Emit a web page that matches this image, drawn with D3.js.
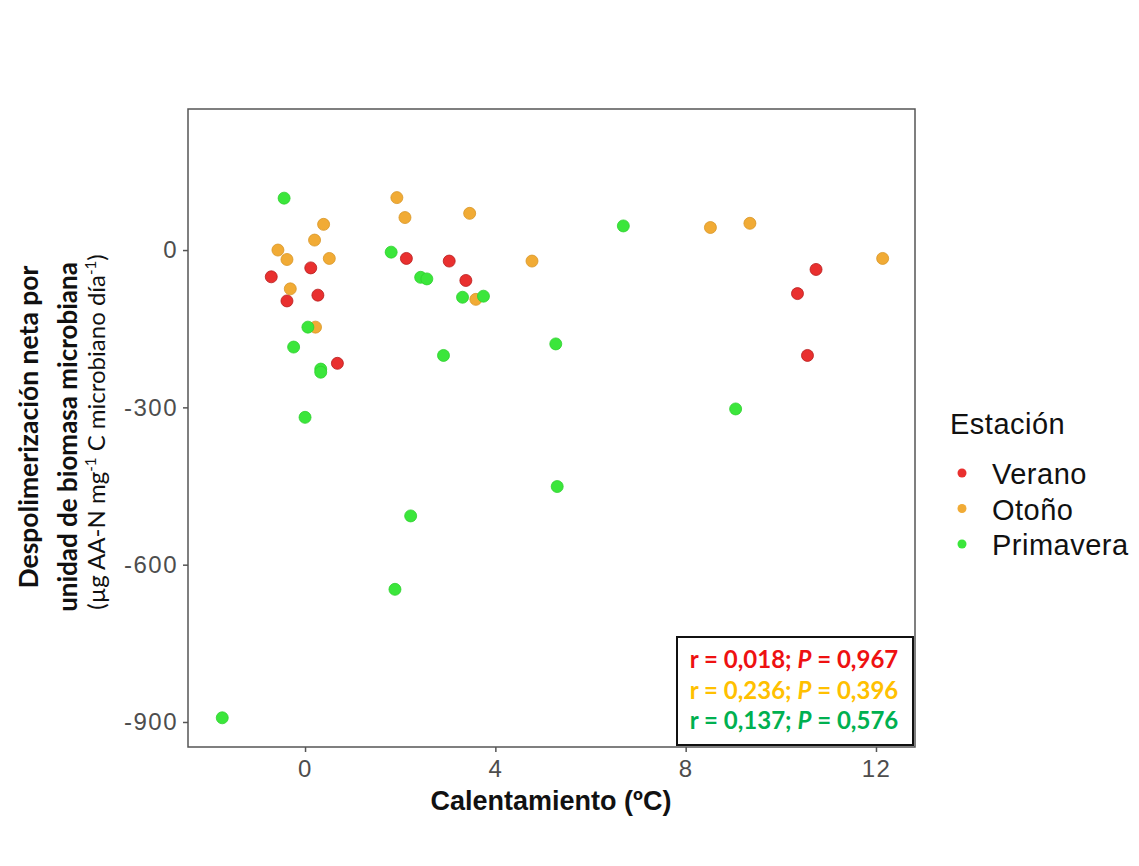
<!DOCTYPE html>
<html>
<head>
<meta charset="utf-8">
<script src="https://cdn.jsdelivr.net/npm/d3@7"></script>
<style>
  body { margin: 0; background: #fff; }
  svg { display: block; }
</style>
</head>
<body>
<svg id="chart" width="1139" height="866"></svg>
<script>
// Data
const seasons = ['Verano', 'Otoño', 'Primavera']
const seasonColors = ['#e9302f', '#f1ab35', '#3be63b']
const seasonStrokes = ['#b81d1d', '#d89526', '#2fd12f']

const veranoX = [-0.71, 0.12, -0.38, 0.27, 0.68, 2.13, 3.03, 3.38, 10.74, 10.35, 10.56]
const veranoY = [-51, -34, -97, -86, -216, -16, -21, -58, -37, -83, -201]

const otonoX = [-0.57, 0.39, 0.20, 0.51, -0.38, -0.31, 0.22, 1.93, 2.10, 3.46, 4.77, 3.59, 8.52, 9.35, 12.14]
const otonoY = [0, 49, 19, -16, -18, -74, -147, 100, 62, 70, -21, -94, 43, 51, -16]

const primaveraX = [-0.44, 0.06, -0.24, 0.33, 0.33, 0.0, 1.81, 2.43, 2.56, 3.31, 3.75, 2.91, 5.27, 6.69, 9.05, 5.30, 2.22, 1.89, -1.74]
const primaveraY = [99, -147, -185, -227, -233, -319, -4, -52, -55, -90, -88, -201, -179, 46, -303, -451, -507, -647, -892]

const xTicks = [0, 4, 8, 12]
const yTicks = [0, -300, -600, -900]

const statsR = ['0,018', '0,236', '0,137']
const statsP = ['0,967', '0,396', '0,576']
const statsColors = ['#ee1111', '#ffc000', '#00b050']

// Layout
const panelLeft = 188, panelRight = 915, panelTop = 109, panelBottom = 747

const svg = d3.select('#chart')

const xScale = d3.scaleLinear()
    .domain([-2.46, 12.82])
    .range([panelLeft, panelRight])

const yScale = d3.scaleLinear()
    .domain([-947.7, 269])
    .range([panelBottom, panelTop])

// Build points
const seriesX = [veranoX, otonoX, primaveraX]
const seriesY = [veranoY, otonoY, primaveraY]
const points = []
seasons.forEach((s, i) => {
    seriesX[i].forEach((x, j) => {
        points.push({season: i, x: x, y: seriesY[i][j]})
    })
})

// Axes (plain hyphen for negatives, like the original)
const plainFormat = d => String(d)

const xAxis = svg.append('g')
    .attr('transform', `translate(0,${panelBottom})`)
    .call(d3.axisBottom(xScale).tickValues(xTicks).tickSize(5).tickPadding(8).tickFormat(plainFormat))

const yAxis = svg.append('g')
    .attr('transform', `translate(${panelLeft},0)`)
    .call(d3.axisLeft(yScale).tickValues(yTicks).tickSize(5).tickPadding(5).tickFormat(plainFormat))

;[xAxis, yAxis].forEach(ax => {
    ax.select('.domain').remove()
    ax.selectAll('.tick line').attr('stroke', '#555').attr('stroke-width', 1.5)
    ax.selectAll('.tick text')
        .attr('fill', '#4d4d4d')
        .style('font-family', 'Liberation Sans, Arial, sans-serif')
        .style('font-size', '24px')
        .style('letter-spacing', '1.5px')
})

// Panel border
svg.append('rect')
    .attr('x', panelLeft)
    .attr('y', panelTop)
    .attr('width', panelRight - panelLeft)
    .attr('height', panelBottom - panelTop)
    .attr('fill', 'none')
    .attr('stroke', '#555')
    .attr('stroke-width', 1.5)

// Points
svg.append('g')
    .selectAll('circle')
    .data(points)
    .enter()
    .append('circle')
    .attr('cx', d => xScale(d.x))
    .attr('cy', d => yScale(d.y))
    .attr('r', 6)
    .attr('fill', d => seasonColors[d.season])
    .attr('stroke', d => seasonStrokes[d.season])
    .attr('stroke-width', 0.8)

// Stats box
const statBox = svg.append('g')
statBox.append('rect')
    .attr('x', 677)
    .attr('y', 637)
    .attr('width', 236)
    .attr('height', 108)
    .attr('fill', '#fff')
    .attr('stroke', '#111')
    .attr('stroke-width', 2)

statsR.forEach((r, i) => {
    const t = statBox.append('text')
        .attr('x', 794)
        .attr('y', 668 + i * 30.5)
        .attr('text-anchor', 'middle')
        .attr('fill', statsColors[i])
        .style('font-family', 'Lato, sans-serif')
        .style('font-weight', 'bold')
        .style('font-size', '24px')
    t.append('tspan').text(`r = ${r}; `)
    t.append('tspan').style('font-style', 'italic').text('P')
    t.append('tspan').text(` = ${statsP[i]}`)
})

// X axis title
svg.append('text')
    .attr('x', 551)
    .attr('y', 810)
    .attr('text-anchor', 'middle')
    .attr('fill', '#111')
    .style('font-family', 'Liberation Sans, Arial, sans-serif')
    .style('font-weight', 'bold')
    .style('font-size', '27px')
    .text('Calentamiento (ºC)')

// Y axis title
const yTitle = svg.append('g')
yTitle.append('text')
    .attr('transform', 'translate(38,427) rotate(-90)')
    .attr('text-anchor', 'middle')
    .attr('fill', '#111')
    .style('font-family', 'Lato, sans-serif')
    .style('font-weight', 'bold')
    .style('font-size', '26.5px')
    .text('Despolimerización neta por')
yTitle.append('text')
    .attr('transform', 'translate(77,437) rotate(-90)')
    .attr('text-anchor', 'middle')
    .attr('fill', '#111')
    .style('font-family', 'Lato, sans-serif')
    .style('font-weight', 'bold')
    .style('font-size', '26px')
    .text('unidad de biomasa microbiana')
const unitText = yTitle.append('text')
    .attr('transform', 'translate(105,432) rotate(-90)')
    .attr('text-anchor', 'middle')
    .attr('fill', '#111')
    .style('font-family', 'Lato, sans-serif')
    .style('font-size', '24px')
unitText.append('tspan').text('(µg AA-N mg')
unitText.append('tspan').attr('dy', -9).style('font-size', '15px').text('-1')
unitText.append('tspan').attr('dy', 9).text(' C microbiano día')
unitText.append('tspan').attr('dy', -9).style('font-size', '15px').text('-1')
unitText.append('tspan').attr('dy', 9).text(')')

// Legend
const legend = svg.append('g')
legend.append('text')
    .attr('x', 950)
    .attr('y', 434)
    .attr('fill', '#111')
    .style('font-family', 'Liberation Sans, Arial, sans-serif')
    .style('font-size', '29px')
    .style('letter-spacing', '0.5px')
    .text('Estación')

const legendItems = legend.selectAll('.legend-item')
    .data(seasons)
    .enter()
    .append('g')
    .attr('class', 'legend-item')
    .attr('transform', (d, i) => `translate(0,${473 + i * 35.5})`)

legendItems.append('circle')
    .attr('cx', 962)
    .attr('cy', 0)
    .attr('r', 4.5)
    .attr('fill', (d, i) => seasonColors[i])

legendItems.append('text')
    .attr('x', 992)
    .attr('y', 11)
    .attr('fill', '#111')
    .style('font-family', 'Liberation Sans, Arial, sans-serif')
    .style('font-size', '29px')
    .style('letter-spacing', '0.5px')
    .text(d => d)
</script>
</body>
</html>
